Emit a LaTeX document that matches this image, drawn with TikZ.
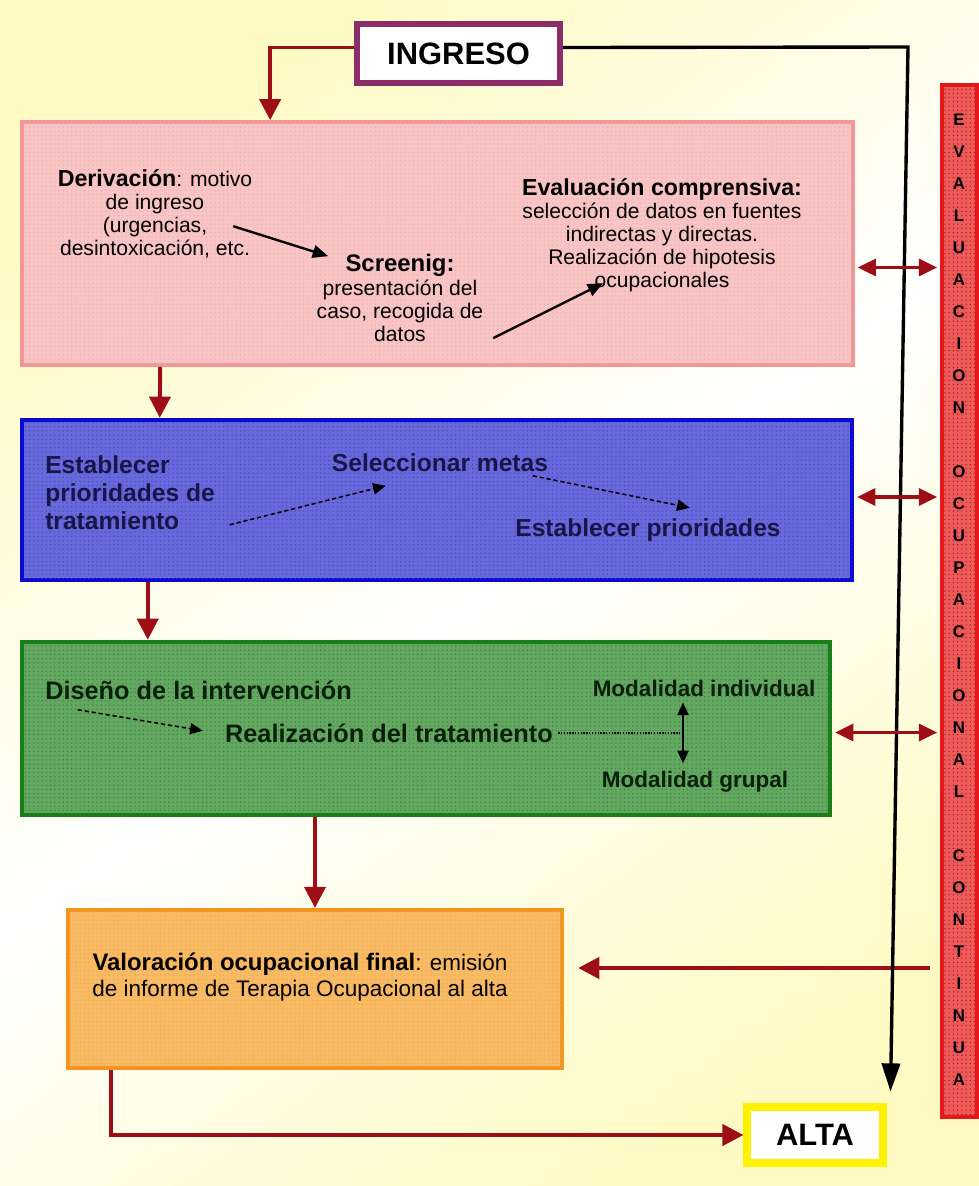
\documentclass[tikz,border=0pt]{standalone}
\usepackage{fontspec}
\setmainfont{Liberation Sans}
\usetikzlibrary{patterns,positioning,fit,arrows.meta,calc}

\definecolor{bgyel}{RGB}{255,250,196}
\definecolor{arrred}{RGB}{158,14,22}
\definecolor{pinkfill}{RGB}{250,196,196}
\definecolor{pinkline}{RGB}{242,150,150}
\definecolor{bluefill}{RGB}{104,104,222}
\definecolor{blueline}{RGB}{10,10,215}
\definecolor{greenfill}{RGB}{98,168,96}
\definecolor{greenline}{RGB}{22,128,22}
\definecolor{orfill}{RGB}{250,186,98}
\definecolor{orline}{RGB}{245,148,28}
\definecolor{barfill}{RGB}{236,90,90}
\definecolor{barline}{RGB}{228,24,24}
\definecolor{ingline}{RGB}{140,45,105}
\definecolor{navy}{RGB}{22,22,72}
\definecolor{darkgreen}{RGB}{10,32,10}

\newcommand{\bodyfont}{\fontsize{15}{16.4}\selectfont}
\newcommand{\headfont}{\fontsize{16.5}{16.4}\selectfont\bfseries}

\tikzset{
  stage/.style={inner sep=0pt,line width=#1},
  stage/.default=3pt,
  speckle/.style={postaction={pattern=dots,pattern color=#1}},
  redarr/.style={arrred,line width=2.8pt,-{Triangle[length=15pt,width=15pt]}},
  dblred/.style={arrred,line width=2.4pt,{Triangle[length=13pt,width=12pt]}-{Triangle[length=13pt,width=12pt]}},
  blkarr/.style={black,line width=1.7pt,-{Triangle[length=11pt,width=9pt]}},
  dasharr/.style={black,line width=1.1pt,densely dashed,-{Triangle[length=9pt,width=8pt]}},
  txt/.style={align=center,inner sep=0pt,font=\bodyfont},
}

\begin{document}
\begin{tikzpicture}[x=0.025cm,y=-0.025cm]
\useasboundingbox (0,0) rectangle (979,1186);
\shade[top color=bgyel,bottom color=bgyel,middle color=white,shading angle=35]
  (0,0) rectangle (979,1186);

% boxes
\node[stage=4.5pt,draw=ingline,fill=white,fit={(357,24) (560,83)}] (ingreso) {};
\node[font=\fontsize{22}{24}\selectfont\bfseries] (ingtext) at (ingreso.center) {INGRESO};
\node[stage=2.6pt,draw=pinkline,fill=pinkfill,speckle=pinkfill!75!gray,
  fit={(22,122) (853,365)}] (derivbox) {};
\node[stage=3.2pt,draw=blueline,fill=bluefill,speckle=bluefill!70!black,
  fit={(22,420) (852,580)}] (prioribox) {};
\node[stage=3.2pt,draw=greenline,fill=greenfill,speckle=greenfill!70!black,
  fit={(22,642) (830,815)}] (tratbox) {};
\node[stage=3pt,draw=orline,fill=orfill,speckle=orfill!75!gray,
  fit={(68,910) (562,1068)}] (valbox) {};
\node[stage=2.8pt,draw=barline,fill=barfill,speckle=barline!80!black,
  fit={(942,85) (977,1117)}] (evalbar) {};
\node[stage=5pt,draw=yellow,fill=white,fit={(747,1107) (883,1163)}] (alta) {};
\node[font=\fontsize{22}{24}\selectfont\bfseries] (altatext) at (alta.center) {ALTA};

% vertical title
\foreach \c [count=\i] in {E,V,A,L,U,A,C,I,O,N,~,O,C,U,P,A,C,I,O,N,A,L,~,C,O,N,T,I,N,U,A}
  \node[inner sep=0pt,font=\fontsize{12}{12}\selectfont\bfseries] (bar\i) at (959,88+32*\i) {\c};

% pink box
\node[txt] (deriv) at (155,214) {{\headfont Derivación}: motivo\\de ingreso\\(urgencias,\\desintoxicación, etc.};
\node[txt] (screen) at (400,298) {{\fontsize{17}{17}\selectfont\bfseries Screenig:}\\presentación del\\caso, recogida de\\datos};
\node[txt] (evalcomp) at (662,235) {{\headfont Evaluación comprensiva:}\\selección de datos en fuentes\\indirectas y directas.\\Realización de hipotesis\\ocupacionales};
\draw[blkarr] ($(derivbox.north west)+(213,106)$) -- ($(derivbox.north west)+(308,136)$);
\draw[blkarr] ($(derivbox.north west)+(473,218)$) -- ($(derivbox.north west)+(583,163)$);

% blue box
\begin{scope}[every node/.style={inner sep=0pt,text=navy,font=\fontsize{17.5}{20}\selectfont\bfseries}]
\node[anchor=west,align=left] (prior) at (45,493) {Establecer\\prioridades de\\tratamiento};
\node (selmetas) at (440,463) {Seleccionar metas};
\node (estprior) at (648,530) {Establecer prioridades};
\end{scope}
\draw[dasharr] ($(prioribox.north west)+(210,107)$) -- ($(prioribox.north west)+(366,68)$);
\draw[dasharr] ($(prioribox.north west)+(513,58)$) -- ($(prioribox.north west)+(670,90)$);

% green box
\begin{scope}[every node/.style={inner sep=0pt,text=darkgreen,font=\fontsize{18}{20}\selectfont\bfseries}]
\node[anchor=west] (diseno) at (45,690) {Diseño de la intervención};
\node (realiz) at (389,733) {Realización del tratamiento};
\node[font=\fontsize{16}{16}\selectfont\bfseries] (modind) at (704,688) {Modalidad individual};
\node[font=\fontsize{16}{16}\selectfont\bfseries] (modgrup) at (695,782) {Modalidad grupal};
\end{scope}
\coordinate (split) at (683,733);
\draw[dasharr] ($(tratbox.north west)+(58,70)$) -- ($(tratbox.north west)+(183,91)$);
\draw[black,densely dotted,line width=1pt] ($(realiz.east)+(5,0)$) -- (split);
\draw[black,line width=1.1pt,{Triangle[length=9pt,width=8pt]}-{Triangle[length=9pt,width=8pt]}]
  ($(split |- modind.south)+(0,6)$) -- ($(split |- modgrup.north)+(0,-8)$);

% orange box
\node[txt,font=\fontsize{16}{18}\selectfont] (valtxt) at (300,977) {{\fontsize{17}{18}\selectfont\bfseries Valoración ocupacional final}: emisión\\de informe de Terapia Ocupacional al alta};

% flow
\draw[redarr] ($(ingreso.west)+(0,-6)$) -| ($(derivbox.north west)+(250,0)$);
\draw[redarr] ($(derivbox.south west)+(140,0)$) -- ($(prioribox.north west)+(140,0)$);
\draw[redarr] ($(prioribox.south west)+(128,0)$) -- ($(tratbox.north west)+(128,0)$);
\draw[redarr] (valbox.north |- tratbox.south) -- (valbox.north);
\draw[redarr] ($(valbox.south west)+(45,0)$) |- (alta.west);
\draw[redarr,shorten >=10] ($(evalbar.west |- valbox.east)+(-10,-21)$) -- ($(valbox.east)+(0,-21)$);

% links to the continuous evaluation
\coordinate (topturn) at (908,47);
\draw[black,line width=2.4pt,-{Triangle[length=20pt,width=13pt]}] ($(ingreso.east)+(0,-6)$) -- (topturn) -- ($(alta.north east)+(4,-12)$);
\draw[dblred,shorten <=2,shorten >=2] ($(derivbox.east)+(0,24)$) -- ($(evalbar.west |- derivbox.east)+(0,24)$);
\draw[dblred,shorten <=2,shorten >=2] ($(prioribox.east)+(0,-3)$) -- ($(evalbar.west |- prioribox.east)+(0,-3)$);
\draw[dblred,shorten <=2,shorten >=2] ($(tratbox.east)+(0,4)$) -- ($(evalbar.west |- tratbox.east)+(0,4)$);
\end{tikzpicture}
\end{document}
